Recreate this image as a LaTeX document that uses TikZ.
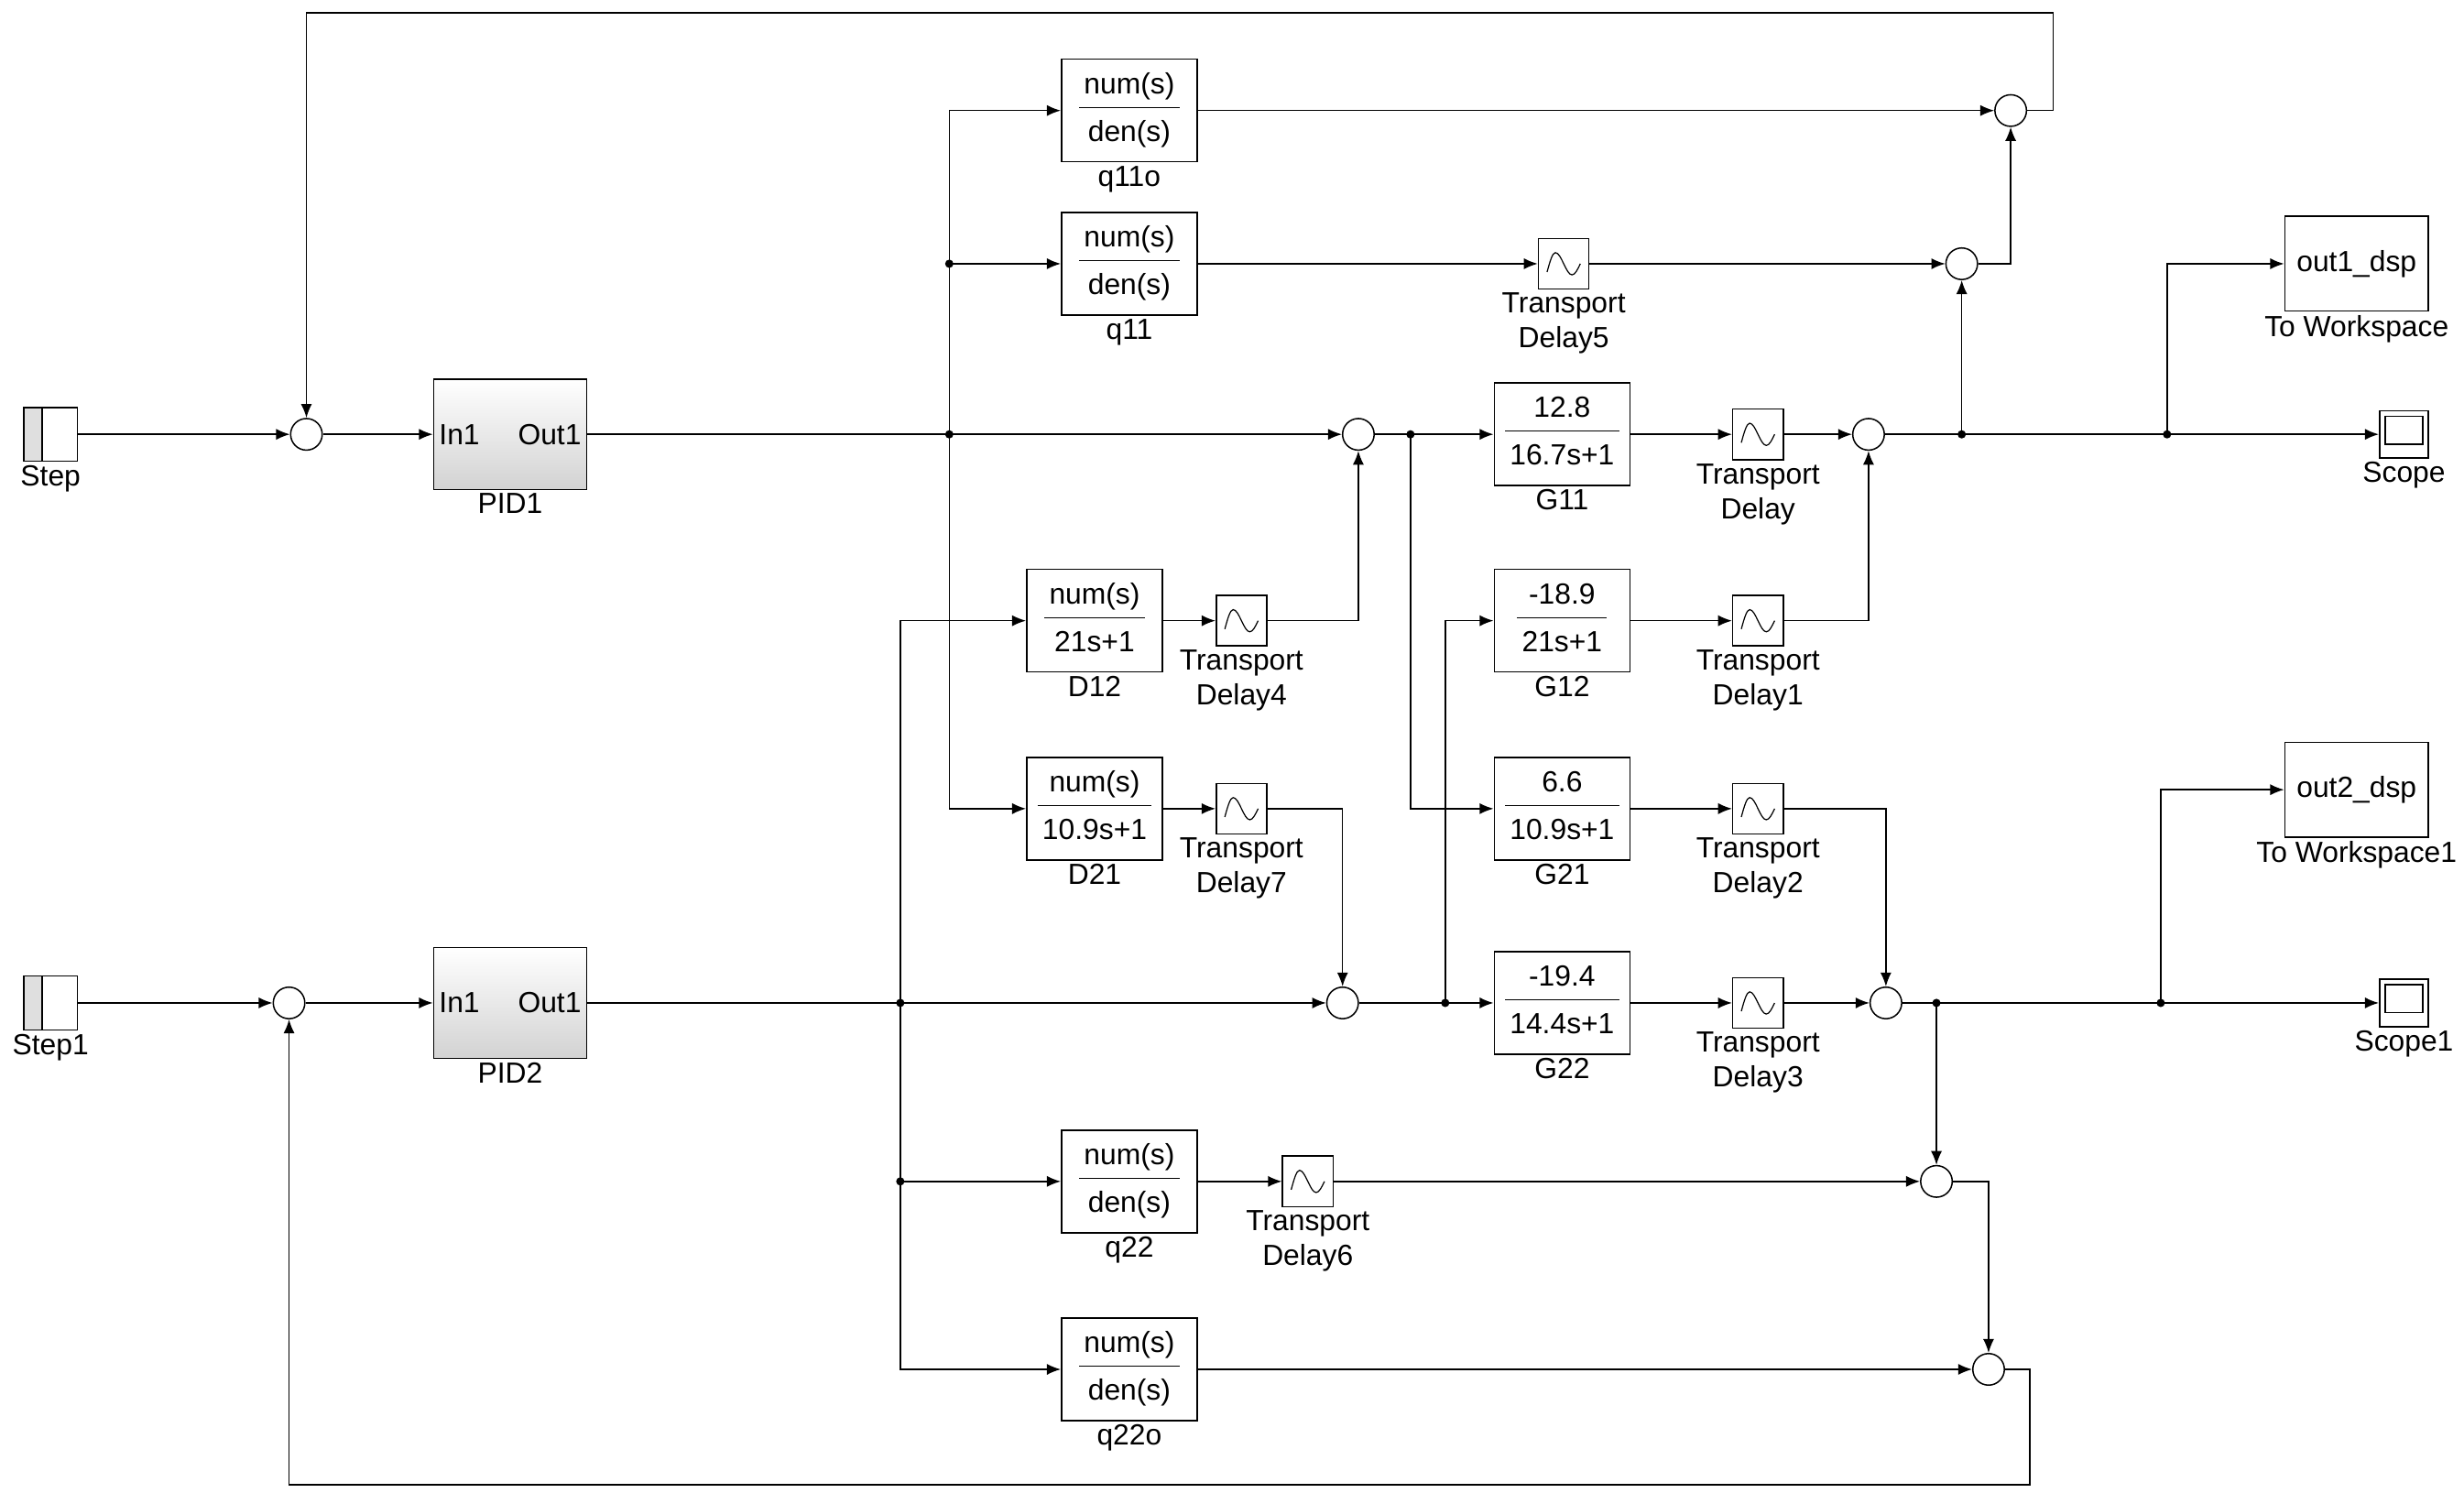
\documentclass[tikz,border=0pt]{standalone}
\usepackage{fontspec}
\setmainfont{Liberation Sans}
\usetikzlibrary{positioning, calc}
\usetikzlibrary{arrows, arrows.meta}
\newcommand{\tfrac}[2]{\begin{tabular}{@{\,}c@{\,}}#1\\[1pt]\hline\rule{0pt}{12pt}#2\end{tabular}}
\tikzset{
  tf/.style={draw,minimum width=1.72cm,minimum height=1.3cm,inner sep=1pt},
  sum/.style={draw,circle,minimum size=0.4cm,inner sep=0pt},
  pid/.style={draw,top color=white,bottom color=gray!35,minimum width=1.94cm,minimum height=1.4cm},
  delay/.style={draw,minimum size=0.64cm,inner sep=0pt,
    path picture={\draw[shift={(path picture bounding box.center)},x=1pt,y=1pt,line width=0.4pt]
      (-6,-3) sin (-3,4) cos (0,0) sin (3,-4) cos (6,0);}},
  src/.style={draw,minimum size=0.68cm,inner sep=0pt,
    path picture={\fill[gray!25] (path picture bounding box.south west) rectangle ([xshift=-3pt]path picture bounding box.north);
      \draw ([xshift=-3pt]path picture bounding box.south) -- ([xshift=-3pt]path picture bounding box.north);}},
  scp/.style={draw,minimum width=0.62cm,minimum height=0.6cm,inner sep=0pt,
    path picture={\draw ([shift={(2pt,-2pt)}]path picture bounding box.north west) rectangle ([shift={(-2pt,5pt)}]path picture bounding box.south east);}},
  wks/.style={draw,minimum width=1.82cm,minimum height=1.2cm},
  lbl/.style={align=center,inner sep=1pt,label distance=0pt},
  dot/.style={fill,circle,inner sep=0pt,minimum size=3pt}
}
\begin{document}
\begin{tikzpicture}[x=0.02cm,y=-0.02cm,>={Latex[length=5pt,width=4pt]},font=\fontsize{10.5}{12.5}\selectfont,line width=0.5pt]
  \useasboundingbox (0,0) rectangle (1560,945);

  % sources and controllers
  \node[src,label={[lbl]below:Step}] (step) at (32,275) {};
  \node[src,label={[lbl]below:Step1}] (step1) at (32,635) {};
  \node[sum] (sA) at (194,275) {};
  \node[sum] (sB) at (183,635) {};
  \node[pid,label={[lbl]below:PID1}] (pid1) at (323,275) {};
  \node[pid,label={[lbl]below:PID2}] (pid2) at (323,635) {};
  \foreach \p in {pid1,pid2} {
    \node[anchor=west,inner sep=1pt] at ([xshift=1pt]\p.west) {In1};
    \node[anchor=east,inner sep=1pt] at ([xshift=-1pt]\p.east) {Out1};
  }

  % decoupler and plant blocks
  \node[tf,label={[lbl]below:q11o}] (q11o) at (715,70) {\tfrac{num(s)}{den(s)}};
  \node[tf,label={[lbl]below:q11}] (q11) at (715,167) {\tfrac{num(s)}{den(s)}};
  \node[tf,label={[lbl]below:D12}] (D12) at (693,393) {\tfrac{num(s)}{21s+1}};
  \node[tf,label={[lbl]below:D21}] (D21) at (693,512) {\tfrac{num(s)}{10.9s+1}};
  \node[tf,label={[lbl]below:q22}] (q22) at (715,748) {\tfrac{num(s)}{den(s)}};
  \node[tf,label={[lbl]below:q22o}] (q22o) at (715,867) {\tfrac{num(s)}{den(s)}};
  \node[tf,label={[lbl]below:G11}] (G11) at (989,275) {\tfrac{12.8}{16.7s+1}};
  \node[tf,label={[lbl]below:G12}] (G12) at (989,393) {\tfrac{-18.9}{21s+1}};
  \node[tf,label={[lbl]below:G21}] (G21) at (989,512) {\tfrac{6.6}{10.9s+1}};
  \node[tf,label={[lbl]below:G22}] (G22) at (989,635) {\tfrac{-19.4}{14.4s+1}};

  % transport delays
  \node[delay,label={[lbl]below:Transport\\Delay5}] (td5) at (990,167) {};
  \node[delay,label={[lbl]below:Transport\\Delay4}] (td4) at (786,393) {};
  \node[delay,label={[lbl]below:Transport\\Delay7}] (td7) at (786,512) {};
  \node[delay,label={[lbl]below:Transport\\Delay}] (td) at (1113,275) {};
  \node[delay,label={[lbl]below:Transport\\Delay1}] (td1) at (1113,393) {};
  \node[delay,label={[lbl]below:Transport\\Delay2}] (td2) at (1113,512) {};
  \node[delay,label={[lbl]below:Transport\\Delay3}] (td3) at (1113,635) {};
  \node[delay,label={[lbl]below:Transport\\Delay6}] (td6) at (828,748) {};

  % sums
  \node[sum] (sC) at (860,275) {};
  \node[sum] (sD) at (850,635) {};
  \node[sum] (sE) at (1183,275) {};
  \node[sum] (sF) at (1194,635) {};
  \node[sum] (sG) at (1242,167) {};
  \node[sum] (sH) at (1273,70) {};
  \node[sum] (sI) at (1226,748) {};
  \node[sum] (sJ) at (1259,867) {};

  % sinks
  \node[wks,label={[lbl]below:To Workspace}] (out1) at (1492,167) {out1\_dsp};
  \node[wks,label={[lbl]below:To Workspace1}] (out2) at (1492,500) {out2\_dsp};
  \node[scp,label={[lbl]below:Scope}] (scope) at (1522,275) {};
  \node[scp,label={[lbl]below:Scope1}] (scope1) at (1522,635) {};

  % branch points
  \coordinate (b1) at (601,275);
  \coordinate (b2) at (570,635);
  \coordinate (b3) at (893,275);
  \coordinate (b4) at (915,635);
  \coordinate (b5) at (1242,275);
  \coordinate (b6) at (1372,275);
  \coordinate (b7) at (1226,635);
  \coordinate (b8) at (1368,635);
  \coordinate (fbA) at (1300,8);
  \coordinate (fbB) at (1285,940);
  \foreach \b in {b1,b2,b3,b4,b5,b6,b7,b8} \node[dot] at (\b) {};
  \node[dot] at (601,167) {};
  \node[dot] at (570,748) {};

  \draw[->] (step) -- (sA);
  \draw[->] (sA) -- (pid1);
  \draw[->] (pid1) -- (sC);
  \draw[->] (step1) -- (sB);
  \draw[->] (sB) -- (pid2);
  \draw[->] (pid2) -- (sD);
  \draw[->] (b1) |- (q11o);
  \draw[->] (b1) |- (q11);
  \draw[->] (b1) |- (D21);
  \draw[->] (b2) |- (D12);
  \draw[->] (b2) |- (q22);
  \draw[->] (b2) |- (q22o);
  \draw[->] (q11o) -- (sH);
  \draw[->] (q11) -- (td5);
  \draw[->] (td5) -- (sG);
  \draw[->] (sG) -| (sH);
  \draw[->] (D12) -- (td4);
  \draw[->] (td4) -| (sC);
  \draw[->] (D21) -- (td7);
  \draw[->] (td7) -| (sD);
  \draw[->] (sC) -- (G11);
  \draw[->] (b3) |- (G21);
  \draw[->] (sD) -- (G22);
  \draw[->] (b4) |- (G12);
  \draw[->] (G11) -- (td);
  \draw[->] (td) -- (sE);
  \draw[->] (G12) -- (td1);
  \draw[->] (td1) -| (sE);
  \draw[->] (G21) -- (td2);
  \draw[->] (td2) -| (sF);
  \draw[->] (G22) -- (td3);
  \draw[->] (td3) -- (sF);
  \draw[->] (sE) -- (scope);
  \draw[->] (b5) -- (sG);
  \draw[->] (b6) |- (out1);
  \draw[->] (sF) -- (scope1);
  \draw[->] (b7) -- (sI);
  \draw[->] (b8) |- (out2);
  \draw[->] (q22) -- (td6);
  \draw[->] (td6) -- (sI);
  \draw[->] (sI) -| (sJ);
  \draw[->] (q22o) -- (sJ);
  \draw[->] (sH) -| (fbA) -| (sA);
  \draw[->] (sJ) -| (fbB) -| (sB);
\end{tikzpicture}
\end{document}
